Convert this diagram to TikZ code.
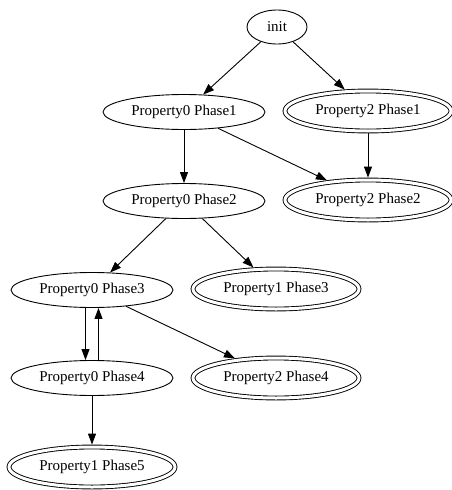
\documentclass[tikz,border=0pt]{standalone}
\usepackage{fontspec}
\setmainfont{Liberation Serif}
\usetikzlibrary{shapes.geometric,arrows.meta}
\tikzset{
  st/.style={ellipse, draw, line width=0.9pt, minimum width=162pt, minimum height=35pt, inner sep=0pt, font=\fontsize{15}{15}\selectfont},
  acc/.style={st, double, double distance=3pt, minimum width=166pt, minimum height=40pt, outer sep=2.4pt},
  tr/.style={line width=0.9pt, -{Triangle[length=11pt,width=8pt]}}
}
\begin{document}
\begin{tikzpicture}[x=1pt,y=-1pt]
\useasboundingbox (0,0) rectangle (452,490);
\node[st, minimum width=60pt, minimum height=34pt] (init) at (277,27) {init};
\node[st] (p0p1) at (184,112) {Property0 Phase1};
\node[acc] (p2p1) at (368,111) {Property2 Phase1};
\node[st] (p0p2) at (184,201) {Property0 Phase2};
\node[acc] (p2p2) at (368,200) {Property2 Phase2};
\node[st] (p0p3) at (92,290) {Property0 Phase3};
\node[acc] (p1p3) at (276,289) {Property1 Phase3};
\node[st] (p0p4) at (92,378) {Property0 Phase4};
\node[acc] (p2p4) at (276,378) {Property2 Phase4};
\node[acc] (p1p5) at (92,467) {Property1 Phase5};
\draw[tr] (init) -- (p0p1);
\draw[tr] (init) -- (p2p1);
\draw[tr] (p0p1) -- (p0p2);
\draw[tr] (p0p1) -- (p2p2);
\draw[tr] (p2p1) -- (p2p2);
\draw[tr] (p0p2) -- (p0p3);
\draw[tr] (p0p2) -- (p1p3);
\draw[tr] ([xshift=-6.5pt]p0p3.south) -- ([xshift=-6.5pt]p0p4.north);
\draw[tr] ([xshift=6.5pt]p0p4.north) -- ([xshift=6.5pt]p0p3.south);
\draw[tr] (p0p3) -- (p2p4);
\draw[tr] (p0p4) -- (p1p5);
\end{tikzpicture}
\end{document}
